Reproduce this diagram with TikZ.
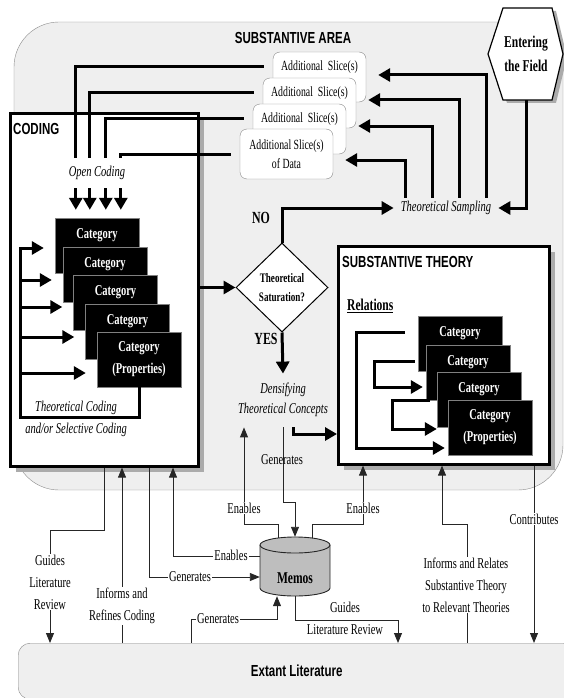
\documentclass[tikz,border=0pt]{standalone}
\usepackage{fontspec}
\setmainfont{Liberation Serif}[FakeStretch=0.7]
\setsansfont{Liberation Sans}[FakeStretch=0.72]
\usetikzlibrary{arrows.meta,shapes.geometric,shadows,positioning}

\definecolor{areafill}{HTML}{EFEFEF}
\definecolor{areaedge}{HTML}{8A8A8A}
\definecolor{shadowgray}{HTML}{ABABAB}
\definecolor{memofill}{HTML}{BEBEBE}

\def\catw{84pt}
\def\cath{55pt}

\begin{document}
\begin{tikzpicture}[x=1pt, y=-1pt]
    \tikzstyle{flow}=[line width=3pt, -{Triangle[length=12pt,width=13pt]}]
    \tikzstyle{link}=[line width=0.9pt, draw=black!85, -{Triangle[length=10pt,width=8pt]}]
    \tikzstyle{panel}=[draw, line width=2.6pt, fill=white, inner sep=0pt, drop shadow={shadow xshift=6pt, shadow yshift=-6pt, fill=shadowgray, opacity=1}]
    \tikzstyle{slice}=[draw=areaedge, fill=white, rounded corners=7pt, minimum width=93pt, minimum height=50pt]
    \tikzstyle{slicetext}=[font=\fontsize{14}{19}\selectfont, align=center, inner sep=0pt]
    \tikzstyle{category}=[fill=black, draw=gray, text=white, font=\bfseries\fontsize{15}{22}\selectfont, minimum width=\catw, minimum height=\cath, inner sep=0pt, align=center]
    \tikzstyle{backcat}=[fill=black, draw=gray, text=white, font=\bfseries\fontsize{15}{22}\selectfont, minimum width=\catw, inner sep=0pt, text height=20.5pt, text depth=34.5pt]
    \tikzstyle{heading}=[font=\sffamily\bfseries\fontsize{16}{18}\selectfont, inner sep=0pt]
    \tikzstyle{process}=[font=\itshape\fontsize{15}{20}\selectfont, align=center]
    \tikzstyle{tag}=[font=\fontsize{15}{22}\selectfont, align=center, fill=white, inner sep=1pt]
    \tikzstyle{answer}=[font=\bfseries\fontsize{17}{19}\selectfont]

    \useasboundingbox (0,0) rectangle (564,698);

    % substantive area and extant literature
    \draw[draw=areaedge, fill=areafill, rounded corners=45pt] (14,22) rectangle (563,490);
    \node[heading] (area) at (293,38) {SUBSTANTIVE AREA};
    \node[heading, draw=areaedge, fill=areafill, rounded corners=12pt, minimum width=557pt, minimum height=56pt, anchor=north west] (lit) at (18,643) {Extant Literature};

    % entering the field
    \draw[fill=white, line width=1.2pt, drop shadow={shadow xshift=4pt, shadow yshift=-3pt, fill=shadowgray, opacity=1}]
        (488,54) -- (503,8) -- (552,8) -- (563,54) -- (552,100) -- (503,100) -- cycle;
    \node[font=\bfseries\fontsize{16.5}{24}\selectfont, align=center, minimum height=92pt] (F) at (526,54) {Entering\\the Field};

    % slices of data
    \node[slice] (S-1) at (319.5,77) {};
    \node[slicetext] (L-1) at ([yshift=-15pt]S-1.north) {Additional\ \ Slice(s)};
    \node[slice] (S-2) at (309.5,103) {};
    \node[slicetext] (L-2) at ([yshift=-15pt]S-2.north) {Additional\ \ Slice(s)};
    \node[slice] (S-3) at (299.5,129) {};
    \node[slicetext] (L-3) at ([yshift=-15pt]S-3.north) {Additional\ \ Slice(s)};
    \node[slice] (S-4) at (286.5,154) {};
    \node[slicetext] (L-4) at (S-4) {Additional Slice(s)\\of Data};

    % coding
    \node[panel, minimum width=188pt, minimum height=353pt, anchor=north west] (coding) at (9,112) {};
    \node[heading, anchor=west] (coding-title) at (13,129) {CODING};
    \node[backcat] (C-1) at (97,245.5) {Category};
    \node[backcat] (C-2) at (105,274.5) {Category};
    \node[backcat] (C-3) at (115.5,302.5) {Category};
    \node[backcat] (C-4) at (127.5,331.5) {Category};
    \node[category] (C-5) at (139,359.5) {Category\\(Properties)};

    % substantive theory
    \node[panel, minimum width=211pt, minimum height=218pt, anchor=north west] (theory) at (337,245) {};
    \node[heading, anchor=west] (theory-title) at (342,262) {SUBSTANTIVE THEORY};
    \node[font=\bfseries\fontsize{16.5}{18}\selectfont, anchor=west, inner sep=0pt] (relations) at (347,306) {\underline{Relations}};
    \node[backcat] (T-1) at (460,343.5) {Category};
    \node[backcat] (T-2) at (468,372.5) {Category};
    \node[backcat] (T-3) at (479,399.5) {Category};
    \node[category] (T-4) at (490,427.5) {Category\\(Properties)};

    % saturation
    \node[diamond, draw, fill=white, line width=1pt, minimum width=92pt, minimum height=89pt, inner sep=0pt, align=center, font=\bfseries\fontsize{13}{19}\selectfont] (sat) at (282,287.5) {Theoretical\\Saturation?};
    \node[answer] (no) at (261,218) {NO};
    \node[answer] (yes) at (266,339) {YES};
    \node[process, inner xsep=7pt] (sampling) at (446,208) {Theoretical Sampling};
    \node[process] (dens) at (283,400) {Densifying\\Theoretical Concepts};

    % memos
    \path[draw=black!85, fill=memofill, line width=0.9pt] (260,545) -- (260,588) arc[start angle=180, end angle=360, x radius=35pt, y radius=8pt] -- (330,545) arc[start angle=0, end angle=180, x radius=35pt, y radius=8pt] -- cycle;
    \draw[black!85, line width=0.9pt] (260,545) arc[start angle=180, end angle=360, x radius=35pt, y radius=8pt];
    \node[minimum width=70pt, minimum height=59pt, inner sep=0pt] (memo) at (295,566.5) {};
    \node[font=\bfseries\fontsize{16.5}{18}\selectfont] (memo-label) at (295,578) {Memos};

    % open coding
    \foreach \s/\dx in {1/21,2/35,3/51,4/66}
        \draw[flow] ([xshift=-9pt]S-\s.west |- L-\s) -| ([xshift=\dx pt,yshift=8pt]C-1.north west);
    \node[process, fill=white, inner xsep=1pt, inner ysep=8pt] (open) at (97,173) {Open Coding};

    % theoretical sampling
    \foreach \s/\dx/\y in {1/40/75,2/13/100,3/-14/126,4/-41/160}
        \draw[flow] ([xshift=\dx pt]sampling.north) |- ([xshift=12pt]S-\s.east |- 0,\y);
    \draw[flow] (F.south) |- (sampling.east);
    \draw[flow] (sat.north) |- (sampling.west);
    \draw[flow] (coding.east |- sat.west) -- (sat.west);
    \draw[flow] (sat.south) -- ([yshift=6pt]dens.north);
    \draw[flow] ([xshift=10pt,yshift=-7pt]dens.south) |- (theory.west |- 0,434);

    % theoretical coding
    \coordinate (loop) at (20,417);
    \draw[flow] (C-5.south) |- (loop) |- ([xshift=-11pt]C-1.west |- 0,248);
    \foreach \c/\y in {2/280,3/307,4/337,5/373}
        \draw[flow] (loop |- 0,\y) -- ([xshift=-11pt]C-\c.west |- 0,\y);
    \node[process] (theo-coding) at (76,408) {Theoretical Coding};
    \node[process] (selective) at (76,430) {and/or Selective Coding};

    % relations
    \draw[flow] ([xshift=-13pt]T-1.west |- 0,332) -- ++(-48,0) |- ([xshift=-3pt]T-4.west |- 0,448);
    \draw[flow] ([xshift=-3pt]T-1.west |- 0,361) -- ++(-40,0) |- ([xshift=-3pt]T-2.west |- 0,387);
    \draw[flow] ([xshift=4pt]T-2.west |- 0,400) -- ++(-37,0) |- ([xshift=-11pt]T-4.west |- 0,429);

    % links to memos and literature
    \draw[link] (coding.south) -- ++(0,63) -| (lit.north -| 50,0);
    \draw[link] (lit.north -| 122,0) -- (coding.south -| 122,0);
    \draw[link] (coding.south -| 149,0) |- (memo.west |- 0,577);
    \draw[link] (memo.west |- 0,556) -| (coding.south -| 173,0);
    \draw[link] (lit.north -| 191,0) |- ([xshift=-18pt]memo.south |- 0,619) -- ([xshift=-18pt]memo.south);
    \draw[link] ([xshift=-17pt,yshift=-1pt]memo.north) -- ++(0,-13) -| ([xshift=-39pt,yshift=-7pt]dens.south);
    \draw[link] ([yshift=-7pt]dens.south) -- ++(0,75) -| (memo.north);
    \draw[link] ([xshift=17pt,yshift=-1pt]memo.north) -- ++(0,-13) -| (theory.south -| 363,0);
    \draw[link] (memo.south) -- ++(0,24) -| (lit.north -| 398,0);
    \draw[link] (lit.north -| 467,0) -- ++(0,-119) -| (theory.south -| 442,0);
    \draw[link] (theory.south -| 534,0) -- (lit.north -| 534,0);

    \node[tag] (guides-1) at (50,582) {Guides\\Literature\\Review};
    \node[tag] (refines) at (122,606) {Informs and\\Refines Coding};
    \node[tag] (gen-1) at (190,577) {Generates};
    \node[tag] (en-1) at (231,555) {Enables};
    \node[tag] (gen-2) at (218,619) {Generates};
    \node[tag] (en-2) at (244,508) {Enables};
    \node[tag, fill=none] (gen-3) at (282,460) {Generates};
    \node[tag] (en-3) at (363,508) {Enables};
    \node[tag, fill=none] (guides-2) at (345,607) {Guides};
    \node[tag, fill=none] (guides-3) at (345,630) {Literature Review};
    \node[tag] (relates) at (466,585) {Informs and Relates\\Substantive Theory\\to Relevant Theories};
    \node[tag] (contrib) at (534,519) {Contributes};
\end{tikzpicture}
\end{document}
